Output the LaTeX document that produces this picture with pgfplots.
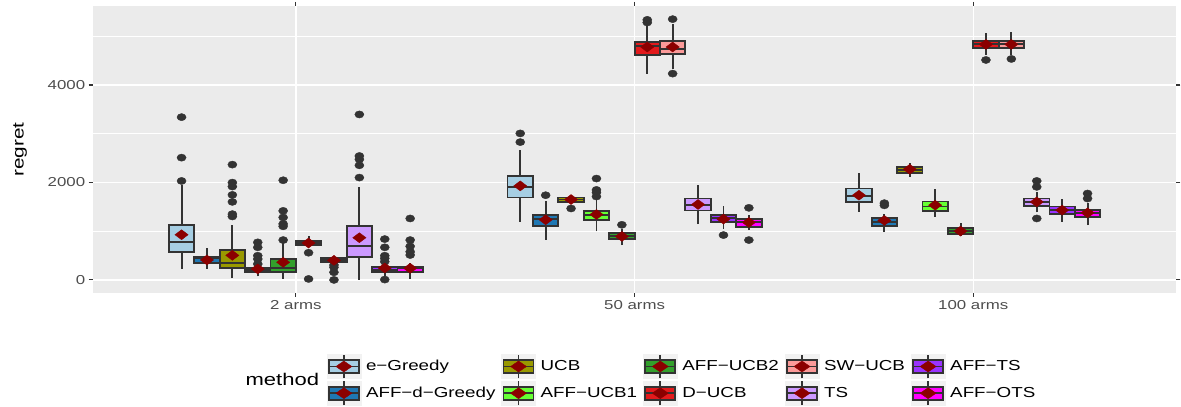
\documentclass[border=0pt]{standalone}
\usepackage{pgfplots}
\pgfplotsset{compat=1.18}
\usepackage{fontspec}
\setmainfont{Liberation Sans}[FakeStretch=1.3]

\definecolor{panel}{HTML}{EBEBEB}
\definecolor{keybg}{HTML}{F2F2F2}
\definecolor{boxline}{HTML}{333333}
\definecolor{grey30}{HTML}{4D4D4D}
\definecolor{meanred}{HTML}{8B0000}
\definecolor{cEG}{HTML}{A6CEE3}
\definecolor{cADG}{HTML}{1F78B4}
\definecolor{cUCB}{HTML}{999900}
\definecolor{cAU1}{HTML}{66FF33}
\definecolor{cAU2}{HTML}{33A02C}
\definecolor{cDU}{HTML}{E31A1C}
\definecolor{cSW}{HTML}{FB9A99}
\definecolor{cTS}{HTML}{CC99FF}
\definecolor{cATS}{HTML}{9933FF}
\definecolor{cAOTS}{HTML}{FF00FF}

% legend key: grey square, box, median, whisker, mean diamond
\newcommand\keyimg[1]{%
  \fill[keybg] (0bp,-12bp) rectangle (34bp,12bp);
  \draw[boxline, line width=1.8bp] (17bp,-12bp) -- (17bp,12bp);
  \filldraw[draw=boxline, fill=#1, line width=1.8bp] (2bp,-6.5bp) rectangle (32bp,6.5bp);
  \draw[boxline, line width=1.8bp] (2bp,0bp) -- (32bp,0bp);
  \fill[meanred] (9bp,0bp) -- (17bp,5.5bp) -- (25bp,0bp) -- (17bp,-5.5bp) -- cycle;
}

\pgfplotsset{
  wline/.style={forget plot, draw=boxline, line width=1.9bp, mark=none},
  boxdraw/.style={forget plot, draw=boxline, line width=1.9bp, mark=none},
  outl/.style={forget plot, only marks, mark=*, mark size=3.6bp,
    color=boxline, mark options={fill=boxline, draw=boxline, xscale=1.27}},
  meanstyle/.style={forget plot, only marks, mark=diamond*, mark size=5bp,
    color=meanred, mark options={xscale=1.77, fill=meanred, draw=meanred}},
}

% one box: #1 position, #2 colour, #3 lower whisker, #4 lower quartile,
% #5 median, #6 upper quartile, #7 upper whisker, #8 outliers (rows "v\\")
\newcommand\bx[8]{%
  \addplot[wline] table[row sep=\\, header=false, x expr={#1}, y index=0] {#3\\ #4\\};
  \addplot[wline] table[row sep=\\, header=false, x expr={#1}, y index=0] {#6\\ #7\\};
  \addplot[boxdraw, fill=#2] table[row sep=\\, header=false,
    x expr={#1+0.0375*\thisrowno{0}}, y index=1] {-1 #4\\ 1 #4\\ 1 #6\\ -1 #6\\} -- cycle;
  \addplot[wline] table[row sep=\\, header=false,
    x expr={#1+0.0375*\thisrowno{0}}, y index=1] {-1 #5\\ 1 #5\\};
  \if\relax\detokenize{#8}\relax\else
  \addplot[outl] table[row sep=\\, header=false, x expr={#1}, y index=0] {#8};
  \fi
}

\begin{document}
\begin{tikzpicture}
\begin{axis}[
  name=ax,
  scale only axis,
  width=1088bp, height=288bp,
  xmin=0.4, xmax=3.6, ymin=-266, ymax=5621,
  xtick={1,2,3}, xticklabels={2 arms, 50 arms, 100 arms},
  ytick={0,2000,4000}, minor ytick={1000,3000,5000},
  xmajorgrids, ymajorgrids, yminorgrids,
  axis background/.style={fill=panel},
  axis line style={draw=none},
  major grid style={draw=white, line width=1.4bp},
  minor grid style={draw=white, line width=0.7bp},
  tick align=outside, major tick length=4bp, minor tick length=0pt,
  tick style={draw=boxline, line width=1.1bp},
  tick label style={font=\fontsize{13bp}{15bp}\selectfont, text=grey30},
  scaled y ticks=false,
  /pgf/number format/1000 sep={},
  /pgf/number format/assume math mode=true,
  ylabel={regret},
  ylabel style={at={(axis description cs:-0.067,0.5)}, anchor=center,
    font=\fontsize{16bp}{18bp}\selectfont},
  legend columns=2, transpose legend,
  legend cell align=left,
  legend style={at={(axis description cs:0.2160,-0.2118)}, anchor=north west,
    draw=none, fill=none, inner sep=0pt, outer sep=0pt, row sep=1bp,
    font=\fontsize{14.5bp}{16bp}\selectfont,
    nodes={inner xsep=0bp, inner ysep=0bp},
    /tikz/every odd column/.append style={column sep=5bp},
    /tikz/every even column/.append style={column sep=6bp}},
]
% ---- 2 arms
\bx{0.6625}{cEG}{225}{573}{783}{1131}{1943}{2031\\ 2509\\ 3340\\}
\bx{0.7375}{cADG}{225}{341}{443}{477}{654}{}
\bx{0.8125}{cUCB}{35}{245}{354}{613}{1131}{1302\\ 1350\\ 1601\\ 1745\\ 1916\\ 1997\\ 2366\\}
\bx{0.8875}{cAU1}{75}{157}{204}{252}{300}{327\\ 429\\ 497\\ 669\\ 771\\}
\bx{0.9625}{cAU2}{20}{170}{239}{429}{790}{818\\ 1100\\ 1150\\ 1282\\ 1417\\ 2045\\}
\bx{1.0375}{cDU}{669}{716}{757}{804}{906}{558\\ 20\\}
\bx{1.1125}{cSW}{340}{375}{409}{443}{490}{307\\ 259\\ 157\\ 0\\}
\bx{1.1875}{cTS}{7}{470}{702}{1104}{1909}{2100\\ 2352\\ 2475\\ 2543\\ 3395\\}
\bx{1.2625}{cATS}{88}{170}{204}{272}{340}{375\\ 443\\ 497\\ 669\\ 838\\ 7\\}
\bx{1.3375}{cAOTS}{20}{157}{239}{272}{340}{511\\ 579\\ 689\\ 818\\ 1261\\}
% ---- 50 arms
\bx{1.6625}{cEG}{1193}{1691}{1909}{2133}{2659}{2828\\ 3006\\}
\bx{1.7375}{cADG}{824}{1111}{1248}{1336}{1622}{1738\\}
\bx{1.8125}{cUCB}{1580}{1601}{1650}{1691}{1745}{1466\\}
\bx{1.8875}{cAU1}{995}{1227}{1329}{1417}{1656}{1711\\ 1793\\ 1847\\ 2080\\}
\bx{1.9625}{cAU2}{716}{838}{893}{955}{1043}{1131\\}
\bx{2.0375}{cDU}{4233}{4622}{4791}{4881}{5200}{5282\\ 5337\\}
\bx{2.1125}{cSW}{4329}{4636}{4745}{4894}{5255}{5351\\ 4233\\}
\bx{2.1875}{cTS}{1145}{1425}{1540}{1670}{1943}{}
\bx{2.2625}{cATS}{1043}{1180}{1268}{1336}{1507}{920\\}
\bx{2.3375}{cAOTS}{1022}{1090}{1180}{1248}{1329}{1479\\ 818\\}
% ---- 100 arms
\bx{2.6625}{cEG}{1397}{1601}{1724}{1875}{2188}{}
\bx{2.7375}{cADG}{988}{1111}{1180}{1268}{1360}{1530\\ 1575\\}
\bx{2.8125}{cUCB}{2113}{2203}{2264}{2317}{2393}{}
\bx{2.8875}{cAU1}{1295}{1417}{1507}{1609}{1861}{}
\bx{2.9625}{cAU2}{893}{941}{1009}{1057}{1159}{}
\bx{3.0375}{cDU}{4622}{4758}{4833}{4901}{5065}{4513\\}
\bx{3.1125}{cSW}{4622}{4758}{4833}{4901}{5085}{4534\\}
\bx{3.1875}{cTS}{1384}{1520}{1601}{1670}{1800}{1909\\ 2031\\ 1261\\}
\bx{3.2625}{cATS}{1193}{1350}{1432}{1507}{1670}{}
\bx{3.3375}{cAOTS}{1125}{1282}{1377}{1438}{1575}{1670\\ 1773\\}
% ---- means
\addplot[meanstyle] coordinates {
  (0.6625,927) (0.7375,409) (0.8125,504) (0.8875,225) (0.9625,362)
  (1.0375,757) (1.1125,402) (1.1875,866) (1.2625,245) (1.3375,239)
  (1.6625,1929) (1.7375,1234) (1.8125,1650) (1.8875,1343) (1.9625,893)
  (2.0375,4779) (2.1125,4779) (2.1875,1548) (2.2625,1248) (2.3375,1180)
  (2.6625,1738) (2.7375,1221) (2.8125,2271) (2.8875,1534) (2.9625,1002)
  (3.0375,4833) (3.1125,4833) (3.1875,1601) (3.2625,1432) (3.3375,1377)
};
% ---- legend
\addlegendimage{legend image code/.code={\keyimg{cEG}}}\addlegendentry{e−Greedy}
\addlegendimage{legend image code/.code={\keyimg{cADG}}}\addlegendentry{AFF−d−Greedy}
\addlegendimage{legend image code/.code={\keyimg{cUCB}}}\addlegendentry{UCB}
\addlegendimage{legend image code/.code={\keyimg{cAU1}}}\addlegendentry{AFF−UCB1}
\addlegendimage{legend image code/.code={\keyimg{cAU2}}}\addlegendentry{AFF−UCB2}
\addlegendimage{legend image code/.code={\keyimg{cDU}}}\addlegendentry{D−UCB}
\addlegendimage{legend image code/.code={\keyimg{cSW}}}\addlegendentry{SW−UCB}
\addlegendimage{legend image code/.code={\keyimg{cTS}}}\addlegendentry{TS}
\addlegendimage{legend image code/.code={\keyimg{cATS}}}\addlegendentry{AFF−TS}
\addlegendimage{legend image code/.code={\keyimg{cAOTS}}}\addlegendentry{AFF−OTS}
\end{axis}
\node[anchor=west, font=\fontsize{17bp}{19bp}\selectfont]
  at ([xshift=150bp,yshift=-87bp]ax.south west) {method};
\path ([xshift=-93bp,yshift=-110bp]ax.south west) rectangle ([yshift=6bp]ax.north east);
\end{tikzpicture}
\end{document}
